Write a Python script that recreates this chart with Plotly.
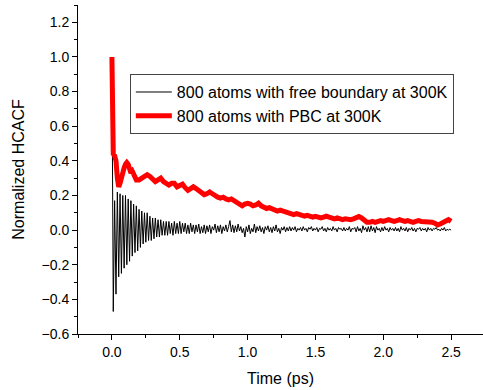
import numpy as np
import plotly.graph_objects as go

# Black series: 800 atoms with free boundary at 300K (sampled every 0.01 ps)
black = [
    1.0, -0.47, 0.17, -0.37, 0.22, -0.27, 0.21, -0.25, 0.2, -0.22,
    0.2, -0.2, 0.18, -0.18, 0.17, -0.15, 0.15, -0.13, 0.14, -0.12,
    0.12, -0.1, 0.11, -0.08, 0.1, -0.07, 0.1, -0.06, 0.08, -0.06,
    0.07, -0.05, 0.07, -0.04, 0.06, -0.04, 0.06, -0.03, 0.05, -0.03,
    0.05,
    -0.03, 0.05, -0.02, 0.04, -0.03, 0.05, -0.02, 0.04, -0.02, 0.05,
    -0.02, 0.04, -0.01, 0.04, -0.02, 0.03, -0.02, 0.04, -0.01, 0.03,
    -0.02, 0.03, -0.01, 0.035, -0.02, 0.02, -0.015, 0.03, -0.02, 0.025,
    -0.01, 0.03, -0.02, 0.02, 0.0, 0.035, -0.015, 0.025, -0.01, 0.03,
    -0.02, 0.02, -0.005, 0.03, -0.01, 0.02, 0.055, -0.01, 0.03, -0.015,
    0.025, -0.01, 0.035, -0.005, 0.02, -0.015, 0.01, -0.04, 0.02, -0.01,
    0.03, -0.02, 0.01, -0.01, 0.035, -0.015, 0.02, -0.005, 0.025, -0.01,
    0.015, -0.02, 0.02, 0.0, 0.025, -0.01, 0.015, -0.015, 0.02, -0.005,
    0.03, -0.01, 0.01, -0.02, 0.015, 0.0, 0.02, -0.01, 0.015, -0.005,
    0.02, -0.005, 0.015, 0.0, 0.02, -0.01, 0.01, 0.0, 0.015, -0.005,
    0.02, 0.0, 0.01, -0.01, 0.015, 0.005, 0.02, -0.005, 0.01, 0.0,
    0.015, -0.01, 0.01, 0.005, 0.02, -0.005, 0.01, -0.01, 0.015, 0.0,
    0.01, -0.005, 0.02, 0.0, 0.01, -0.01, 0.015, 0.005, 0.01, -0.005,
    0.015, -0.005, 0.01, 0.0, 0.02, -0.01, 0.01, 0.005, 0.015, -0.01,
    0.02, -0.005, 0.01, -0.015, 0.025, 0.0, 0.015, -0.01, 0.02, -0.01,
    0.025, -0.005, 0.015, -0.015, 0.02, 0.0, 0.01, -0.01, 0.015, -0.005,
    0.02, 0.0, 0.01, -0.01, 0.015, 0.0, 0.01, -0.005, 0.015, -0.005,
    0.01, -0.01, 0.02, 0.0, 0.01, -0.005, 0.015, -0.01, 0.01, 0.0,
    0.015, -0.005, 0.01, -0.01, 0.01, 0.005, 0.015, -0.005, 0.01, 0.0,
    0.01, -0.01, 0.015, 0.0, 0.01, -0.005, 0.01, 0.005, 0.015, 0.0,
    0.005, -0.005, 0.01, 0.0, 0.015, -0.005, 0.005, 0.0, 0.005, 0.0,
]
t_black = np.round(np.arange(len(black)) * 0.01, 3)

# Red series: 800 atoms with PBC at 300K
t_red = [
    0.0, 0.005, 0.01, 0.02, 0.03, 0.04, 0.05, 0.06, 0.07, 0.08, 0.09, 0.10,
    0.11, 0.12, 0.13, 0.14, 0.15, 0.16, 0.18, 0.20, 0.22, 0.24, 0.26, 0.28,
    0.30, 0.32, 0.34, 0.36, 0.38, 0.40, 0.42, 0.44, 0.46, 0.48, 0.50, 0.52,
    0.54, 0.56, 0.58, 0.60, 0.62, 0.64, 0.66, 0.68, 0.70, 0.72, 0.74, 0.76,
    0.78, 0.80, 0.82, 0.84, 0.86, 0.88, 0.90, 0.92, 0.94, 0.96, 0.98, 1.00,
    1.02, 1.04, 1.06, 1.08, 1.10, 1.12, 1.14, 1.16, 1.18, 1.20, 1.22, 1.24,
    1.26, 1.28, 1.30, 1.32, 1.34, 1.36, 1.38, 1.40, 1.42, 1.44, 1.46, 1.48,
    1.50, 1.52, 1.54, 1.56, 1.58, 1.60, 1.62, 1.64, 1.66, 1.68, 1.70, 1.72,
    1.74, 1.76, 1.78, 1.80, 1.82, 1.84, 1.86, 1.88, 1.90, 1.92, 1.94, 1.96,
    1.98, 2.00, 2.02, 2.04, 2.06, 2.08, 2.10, 2.12, 2.14, 2.16, 2.18, 2.20,
    2.22, 2.24, 2.26, 2.28, 2.30, 2.32, 2.34, 2.36, 2.38, 2.40, 2.42, 2.44,
    2.46, 2.48, 2.50,
]
red = [
    1.0, 0.7, 0.44, 0.43, 0.40, 0.30, 0.25, 0.27, 0.31, 0.33, 0.36, 0.38,
    0.39, 0.38, 0.35, 0.33, 0.34, 0.32, 0.29, 0.29, 0.30, 0.31, 0.32, 0.31,
    0.29, 0.28, 0.29, 0.30, 0.28, 0.27, 0.26, 0.27, 0.27, 0.25, 0.26, 0.265,
    0.245, 0.23, 0.24, 0.25, 0.24, 0.225, 0.215, 0.205, 0.21, 0.22, 0.21, 0.195,
    0.19, 0.185, 0.19, 0.18, 0.175, 0.18, 0.17, 0.16, 0.145, 0.14, 0.15, 0.155,
    0.15, 0.14, 0.145, 0.155, 0.14, 0.13, 0.125, 0.13, 0.125, 0.115, 0.11, 0.115,
    0.11, 0.10, 0.10, 0.095, 0.09, 0.095, 0.09, 0.085, 0.08, 0.085, 0.08, 0.075,
    0.08, 0.075, 0.07, 0.075, 0.08, 0.075, 0.07, 0.065, 0.07, 0.065, 0.06, 0.065,
    0.06, 0.06, 0.065, 0.07, 0.078, 0.07, 0.055, 0.045, 0.045, 0.05, 0.045, 0.05,
    0.055, 0.05, 0.055, 0.06, 0.055, 0.05, 0.055, 0.06, 0.055, 0.05, 0.055, 0.05,
    0.045, 0.05, 0.055, 0.05, 0.05, 0.045, 0.05, 0.045, 0.04, 0.03, 0.035, 0.045,
    0.05, 0.06, 0.05,
]

names = ["800 atoms with free boundary at 300K", "800 atoms with PBC at 300K"]

FONT = "Liberation Sans, Arial, sans-serif"

fig = go.Figure()
fig.add_trace(go.Scatter(x=t_black, y=black, mode="lines", name=names[0],
                         line=dict(color="black", width=1)))
fig.add_trace(go.Scatter(x=t_red, y=red, mode="lines", name=names[1],
                         line=dict(color="#ff0000", width=5)))

axis_common = dict(
    showline=True, linecolor="black", linewidth=1, mirror=False,
    showgrid=False, zeroline=False,
    ticks="outside", ticklen=5, tickwidth=1, tickcolor="black",
    tickfont=dict(family=FONT, size=14, color="black"),
)

fig.update_xaxes(
    range=[-0.25, 2.735], tick0=0, dtick=0.5, tickformat=".1f",
    title=dict(text="Time (ps)", font=dict(family=FONT, size=16, color="black"), standoff=14),
    minor=dict(dtick=0.25, tick0=0, ticks="outside", ticklen=3, tickcolor="black", showgrid=False),
    **axis_common,
)
fig.update_yaxes(
    range=[-0.6, 1.3], tick0=-0.6, dtick=0.2, tickformat=".1f",
    title=dict(text="Normalized HCACF", font=dict(family=FONT, size=16, color="black"), standoff=12),
    minor=dict(dtick=0.1, tick0=0, ticks="outside", ticklen=3, tickcolor="black", showgrid=False),
    **axis_common,
)

fig.update_layout(
    width=483, height=390,
    margin=dict(l=78, r=0, t=5, b=56),
    paper_bgcolor="white", plot_bgcolor="white",
    showlegend=True,
    legend=dict(
        x=0.128, y=0.79, xanchor="left", yanchor="top",
        bgcolor="white", bordercolor="#444444", borderwidth=1,
        font=dict(family=FONT, size=16, color="black"),
        itemwidth=36, tracegroupgap=0,
    ),
)

fig.write_html("out.html")
